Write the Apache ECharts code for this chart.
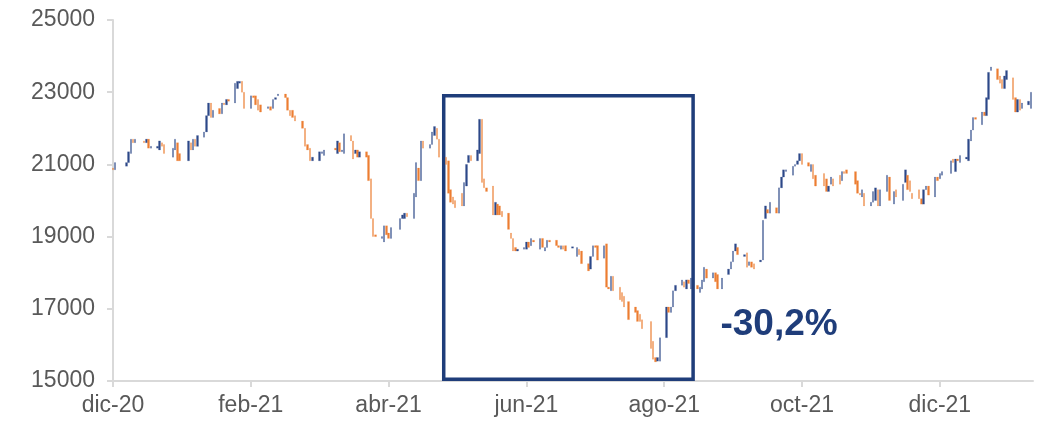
<!DOCTYPE html>
<html>
<head>
<meta charset="utf-8">
<script src="https://cdn.jsdelivr.net/npm/echarts@6/dist/echarts.min.js"></script>
<style>
  html, body { margin: 0; padding: 0; background: #ffffff; }
  #chart { width: 1041px; height: 421px; }
</style>
</head>
<body>
<div id="chart"></div>
<script>
// Trading calendar: every weekday from firstDay to lastDay; null = no session.
const firstDay = '2020-12-01';
const lastDay = '2022-01-11';

const monthNames = ['ene', 'feb', 'mar', 'abr', 'may', 'jun', 'jul', 'ago', 'sep', 'oct', 'nov', 'dic'];
// x-axis ticks, in months counted from dic-20
const tickMonths = [0, 2, 4, 6, 8, 10, 12];
const yMin = 15000, yMax = 25000, yStep = 2000;

// Daily open / close, one line per week (Mon..Fri)
const opens = [
  20900, 20850, null, null,
  20950, 21050, 21300, 21700, 21600,
  null, 21650, 21600, 21700, 21450,
  21450, 21400, 21600, 21550, null,
  21200, 21400, 21600, 21300, null,
  21100, 21600, 21400, 21700, 21500,
  21750, 21900, 22350, 22700, 22300,
  22550, 22400, 22700, 22650, 22800,
  22700, 23100, 23250, 23300, 23000,
  22550, 22900, 22900, 22800, 22650,
  22550, 22600, 22550, 22800, 22900,
  22950, 22850, 22500, 22500, 22350,
  22200, 22000, 21550, 21450, 21100,
  21100, 21300, 21250, null, null,
  21450, 21300, 21600, 21350, 21300,
  21800, 21650, 21300, 21400, 21200,
  21350, 21250, 20600, 19500, 19050,
  18950, 18850, 19300, 19100, 18950,
  null, 19200, 19500, 19500, 19650,
  19500, 20100, 20900, 20550, 21650,
  21450, 21550, 21800, 22000, 21700,
  21200, 21100, 20300, 20100, 20000,
  20200, 19850, 20400, 21050, 21250,
  21100, 21300, 22250, 20600, 20350,
  20400, 19600, 19900, 19850, 19700,
  19650, 19100, 18950, 18700, 18600,
  18650, 18650, 18850, 18750, 18900,
  18650, 18950, 18600, 18700, 18900,
  18900, 18750, 18650, 18750, 18750,
  18680, null, 18450, 18650, 18600,
  18250, 18100, 18450, 18750, 18750,
  18400, 18800, 17600, 17500, 17900,
  17600, 17450, 17350, null, 17200,
  17050, 16950, 16850, 16700, null,
  16650, 16100, 15650, 15550, 15550,
  16200, 17050, 16900, 17050, 17500,
  17650, 17750, 17550, 17800, 17550,
  17650, 17450, 17550, 17750, 18100,
  17850, 18000, 17950, null, 17550,
  17950, 18100, 18300, 18600, 18700,
  18450, 18550, 18200, 18300, 18250,
  18300, 18350, 19500, 19750, 19650,
  19800, 19650, 20350, 20650, 20800,
  20700, 20950, 21000, 21100, 21300,
  21050, 20800, 21000, 20700, null,
  20750, 20600, 20250, 20450, 20600,
  20700, 20550, 20800, 20850, null,
  20800, 20550, 20200, 20100, 20200,
  19850, 19950, 20000, 20300, 19850,
  20250, 20650, null, 19900, 20300,
  20000, 20500, 20700, 20550, 20200,
  20300, 20050, 19900, 20300, 20400,
  20100, 20650, 20600, 20700, null,
  20750, 21150, 20800, 21150, 21050,
  21150, 21100, 21650, 21950, 22300,
  22100, 22450, 22350, 22800, 23600,
  23650, 23450, 23350, 23100, 23350,
  23400, 22850, 22450, 22800, 22550,
  22650, 22550
];
const closes = [
  20850, 21050, null, null,
  21050, 21350, 21700, 21600, 21700,
  null, 21600, 21700, 21450, 21500,
  21500, 21650, 21500, 21300, null,
  21450, 21700, 21100, 21100, null,
  21650, 21400, 21700, 21500, 21800,
  21900, 22350, 22700, 22300, 22500,
  22400, 22700, 22650, 22800, 22750,
  23250, 23300, 23300, 23000, 22550,
  22900, 22850, 22650, 22500, 22450,
  22600, 22500, 22800, 22850, 22950,
  22850, 22500, 22350, 22300, 22200,
  22000, 21500, 21400, 21100, 21200,
  21350, 21350, 21400, null, null,
  21400, 21650, 21350, 21400, 21850,
  21650, 21150, 21400, 21200, 21350,
  21200, 20550, 19500, 19000, 19000,
  19000, 19300, 19050, 18950, 19250,
  null, 19500, 19600, 19650, 19550,
  20200, 21050, 20550, 21650, 21450,
  21550, 21900, 22050, 21700, 21200,
  21000, 20200, 19950, 19900, 19800,
  19850, 20500, 21000, 21250, 21100,
  21400, 22250, 20500, 20350, 20250,
  19600, 19950, 19600, 19600, 19550,
  19200, 18950, 18600, 18600, 18650,
  18700, 18850, 18700, 18950, 18850,
  18950, 18700, 18700, 18900, 18850,
  18750, 18700, 18750, 18650, 18600,
  18720, null, 18700, 18500, 18250,
  18050, 18450, 18750, 18700, 18350,
  18750, 17600, 17550, 17900, 17500,
  17250, 17200, 17050, null, 16700,
  16900, 16650, 16650, 16450, null,
  15900, 15600, 15530, 15650, 16200,
  17050, 16900, 17050, 17500, 17650,
  17800, 17600, 17800, 17700, 17850,
  17550, 17600, 17800, 18150, 17850,
  18000, 17750, 17550, null, 17850,
  18100, 18300, 18600, 18800, 18500,
  18500, 18150, 18300, 18150, 18100,
  18350, 19450, 19850, 19650, 19950,
  19650, 20350, 20650, 20850, 20850,
  20950, 21000, 21100, 21300, 21000,
  20950, 21000, 20600, 20400, null,
  20400, 20250, 20400, 20650, 20400,
  20450, 20800, 20750, 20750, null,
  20450, 20200, 20150, 20300, 19850,
  19950, 20250, 20350, 19850, 20300,
  20700, 20000, null, 20250, 20100,
  20450, 20850, 20300, 20250, 20050,
  20050, 19900, 20300, 20400, 20150,
  20650, 20550, 20750, 20800, null,
  21100, 21050, 21150, 21100, 21250,
  21200, 21700, 21950, 22300, 22250,
  22450, 22350, 22850, 23550, 23700,
  23350, 23250, 23100, 23450, 23600,
  22800, 22450, 22800, 22500, 22700,
  22750, 23000
];

// Highlighted drawdown window and its annotation
const boxStart = '2021-04-25', boxEnd = '2021-08-14';
const boxTop = 22900, boxBottom = 15050;
const dropLabel = '-30,2%';
const dropLabelAt = ['2021-09-21', 16550];

const navy = '#1f3d7a';
const upColor = '#2c4888';
const downColor = '#ed7d31';
const axisGrey = '#d9d9d9';
const labelGrey = '#595959';
const font = '"Liberation Sans", Arial, sans-serif';

// Position on the x axis in months (dic-20 = 0), so every month has equal width
function monthPos(dateStr) {
  const [y, m, d] = dateStr.split('-').map(Number);
  const dim = new Date(Date.UTC(y, m, 0)).getUTCDate();
  return (y - 2020) * 12 + (m - 1) - 11 + (d - 1) / dim;
}

function weekdays(from, to) {
  const out = [];
  const end = new Date(to + 'T00:00:00Z');
  for (let t = new Date(from + 'T00:00:00Z'); t <= end; t.setUTCDate(t.getUTCDate() + 1)) {
    const wd = t.getUTCDay();
    if (wd !== 0 && wd !== 6) out.push(t.toISOString().slice(0, 10));
  }
  return out;
}

const days = weekdays(firstDay, lastDay);
const candles = [];
days.forEach((day, i) => {
  const o = opens[i], c = closes[i];
  if (o == null || c == null) return;
  candles.push([monthPos(day), o, c, Math.min(o, c), Math.max(o, c)]);
});

function monthLabel(v) {
  const idx = 11 + Math.round(v);
  return monthNames[idx % 12] + '-' + (20 + Math.floor(idx / 12));
}

const chart = echarts.init(document.getElementById('chart'), null, { renderer: 'canvas' });
chart.setOption({
  animation: false,
  backgroundColor: '#ffffff',
  grid: { left: 113, right: 8, top: 20, bottom: 40, containLabel: false },
  xAxis: {
    type: 'value',
    min: 0,
    max: monthPos(lastDay) + 0.03,
    interval: 2,
    axisLine: { show: true, onZero: false, lineStyle: { color: axisGrey, width: 2 } },
    axisTick: { show: true, length: 6, customValues: tickMonths, lineStyle: { color: axisGrey, width: 2 } },
    axisLabel: {
      customValues: tickMonths,
      formatter: monthLabel,
      color: labelGrey, fontSize: 23, fontFamily: font, margin: 13
    },
    splitLine: { show: false }
  },
  yAxis: {
    type: 'value',
    min: yMin, max: yMax, interval: yStep,
    axisLine: { show: true, lineStyle: { color: axisGrey, width: 2 } },
    axisTick: { show: true, length: 6, lineStyle: { color: axisGrey, width: 2 } },
    axisLabel: {
      formatter: (v) => String(v),
      color: labelGrey, fontSize: 23, fontFamily: font, margin: 18
    },
    splitLine: { show: false }
  },
  series: [{
    type: 'candlestick',
    data: candles,
    barWidth: 2,
    itemStyle: {
      color: upColor, color0: downColor,
      borderColor: upColor, borderColor0: downColor,
      borderWidth: 0.2
    },
    markArea: {
      silent: true,
      itemStyle: { color: 'rgba(0,0,0,0)', borderColor: navy, borderWidth: 3.5 },
      data: [[
        { xAxis: monthPos(boxStart), yAxis: boxBottom },
        { xAxis: monthPos(boxEnd), yAxis: boxTop }
      ]]
    },
    markPoint: {
      silent: true,
      symbol: 'rect',
      symbolSize: 1,
      itemStyle: { color: 'rgba(0,0,0,0)' },
      label: {
        show: true, position: 'inside', formatter: dropLabel,
        color: navy, fontSize: 37, fontWeight: 'bold', fontFamily: font
      },
      data: [{ coord: [monthPos(dropLabelAt[0]), dropLabelAt[1]] }]
    }
  }]
});
</script>
</body>
</html>
